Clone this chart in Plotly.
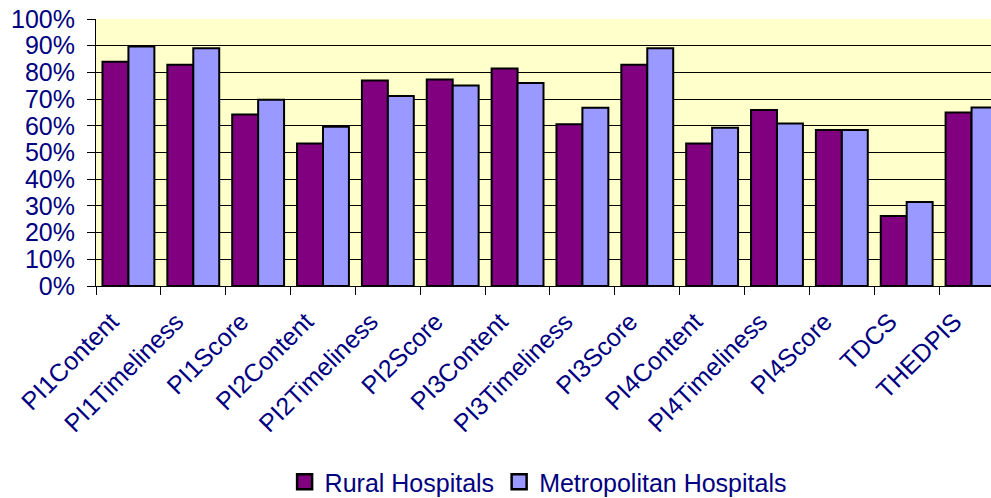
import plotly.graph_objects as go

categories = ["PI1Content", "PI1Timeliness", "PI1Score", "PI2Content", "PI2Timeliness",
              "PI2Score", "PI3Content", "PI3Timeliness", "PI3Score", "PI4Content",
              "PI4Timeliness", "PI4Score", "TDCS", "THEDPIS"]
rural = [0.840, 0.829, 0.642, 0.534, 0.770, 0.773, 0.815, 0.606, 0.829, 0.534,
         0.659, 0.584, 0.262, 0.650]
metro = [0.897, 0.890, 0.698, 0.596, 0.712, 0.751, 0.760, 0.668, 0.890, 0.593,
         0.609, 0.584, 0.315, 0.669]
series_names = ["Rural Hospitals", "Metropolitan Hospitals"]
y_ticks = [i / 10 for i in range(11)]
y_labels = [f"{i * 10}%" for i in range(11)]
grid_vals = [i / 10 + 0.0001 for i in range(1, 10)]

navy = "#000080"
rural_color = "#800080"
metro_color = "#9999FF"
font_family = "Arial, Liberation Sans, sans-serif"

fig = go.Figure()
fig.add_trace(go.Bar(x=categories, y=rural, name=series_names[0], showlegend=False,
                     marker=dict(color=rural_color, line=dict(color="black", width=2))))
fig.add_trace(go.Bar(x=categories, y=metro, name=series_names[1], showlegend=False,
                     marker=dict(color=metro_color, line=dict(color="black", width=2))))
# legend entries with larger square swatches
for nm, col in zip(series_names, [rural_color, metro_color]):
    fig.add_trace(go.Scatter(x=[None], y=[None], mode="markers", name=nm,
                             marker=dict(symbol="square", size=15, color=col,
                                         line=dict(color="black", width=2.5))))

fig.update_layout(
    width=991, height=498,
    margin=dict(l=96, r=0, t=19, b=212, autoexpand=False),
    paper_bgcolor="white",
    plot_bgcolor="#FFFFCC",
    barmode="group",
    bargap=0.2,
    bargroupgap=0,
    font=dict(family=font_family, color=navy, size=24),
    legend=dict(orientation="h", xref="container", yref="container",
                x=0.543, xanchor="center", y=0.032, yanchor="middle",
                font=dict(size=25, color=navy), itemwidth=30, tracegroupgap=0),
    showlegend=True,
)
fig.update_xaxes(
    type="category",
    range=[-0.5, 13.30],
    automargin=False,
    tickangle=-45,
    tickson="boundaries",
    ticks="outside", ticklen=8, tickcolor="black", tickwidth=1,
    showline=True, linecolor="black", linewidth=1,
    showgrid=False,
    tickfont=dict(size=25, color=navy, family=font_family),
    ticklabelstandoff=10,
    ticklabelshift=-17,
)
fig.update_yaxes(
    range=[0, 1],
    automargin=False,
    tickvals=y_ticks, ticktext=y_labels,
    ticks="outside", ticklen=8, tickcolor="black", tickwidth=1,
    showline=True, linecolor="black", linewidth=1,
    showgrid=False,
    minor=dict(tickmode="array", tickvals=grid_vals, showgrid=True,
               gridcolor="black", gridwidth=1, ticks=""),
    zeroline=False,
    tickfont=dict(size=25, color=navy, family=font_family),
    ticklabelstandoff=7,
)

fig.write_html("out.html")
